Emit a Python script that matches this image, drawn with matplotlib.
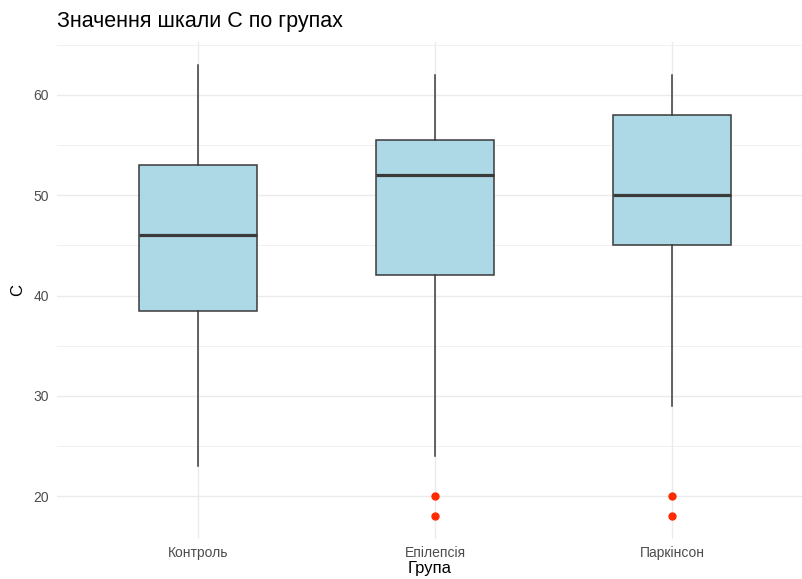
import matplotlib
matplotlib.use("Agg")
import matplotlib.pyplot as plt

plt.rcParams['font.family'] = ['Liberation Sans', 'DejaVu Sans']

groups = ["Контроль", "Епілепсія", "Паркінсон"]
whisker_low = [23, 24, 29]
q1 = [38.5, 42, 45]
median = [46, 52, 50]
q3 = [53, 55.5, 58]
whisker_high = [63, 62, 62]
outliers = [[], [20, 18], [20, 18]]

W, H = 802, 579
fig = plt.figure(figsize=(W / 100, H / 100), dpi=100)
ax = fig.add_axes([57 / W, 1 - 539 / H, (802 - 57) / W, (539 - 42) / H])

stats = []
for i, g in enumerate(groups):
    stats.append(dict(label=g, whislo=whisker_low[i], q1=q1[i], med=median[i],
                      q3=q3[i], whishi=whisker_high[i], fliers=outliers[i]))

edge = "#3a3a3a"
positions = list(range(1, len(groups) + 1))
ax.bxp(stats, positions=positions, widths=0.5, patch_artist=True,
       showcaps=False,
       boxprops=dict(facecolor="#ADD8E6", edgecolor=edge, linewidth=1.1),
       whiskerprops=dict(color=edge, linewidth=1.1),
       medianprops=dict(color=edge, linewidth=2.3),
       flierprops=dict(marker="o", markerfacecolor="#FF2A00", markeredgecolor="#FF2A00",
                       markersize=5, linestyle="none"),
       zorder=3)

ax.set_xlim(1 - 141 / 237, 3 + 130 / 237)
ax.set_ylim(15.75, 65.25)

# minimal theme: light grid, no spines, no ticks
ax.set_yticks([20, 30, 40, 50, 60])
ax.set_yticks([25, 35, 45, 55, 65], minor=True)
ax.set_xticks(positions)
ax.set_xticklabels(groups)
ax.grid(True, which="major", color="#EBEBEB", linewidth=1.0, zorder=0)
ax.grid(True, which="minor", axis="y", color="#EBEBEB", linewidth=0.5, zorder=0)
ax.set_axisbelow(True)
for s in ax.spines.values():
    s.set_visible(False)
ax.tick_params(which="both", length=0)
ax.tick_params(axis="y", labelsize=10, labelcolor="#4D4D4D", pad=6)
ax.tick_params(axis="x", labelsize=10, labelcolor="#4D4D4D", pad=5)

ax.set_xlabel("Група", fontsize=12, color="black", labelpad=1)
ax.set_ylabel("C", fontsize=12, color="black", labelpad=6)

fig.text(57 / W, 1 - 21 / H, "Значення шкали C по групах", fontsize=15.5,
         color="black", ha="left", va="center")

fig.savefig("out.png", dpi=100)
